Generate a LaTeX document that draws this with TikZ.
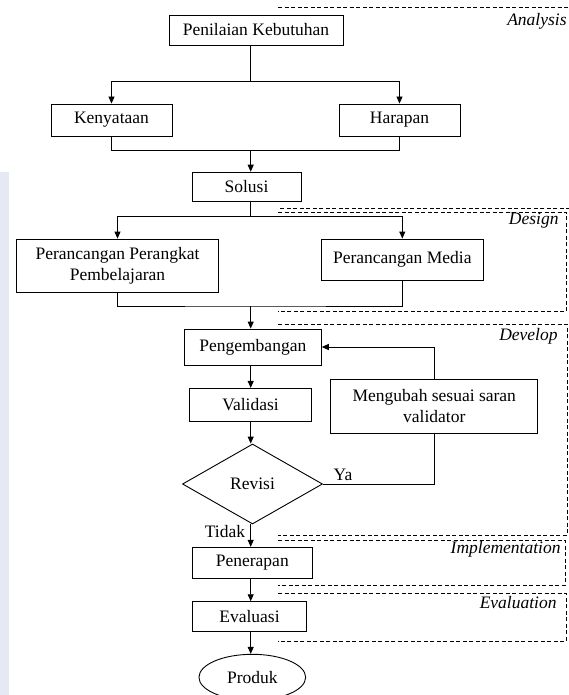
\documentclass[tikz,border=0pt]{standalone}
\usepackage{fontspec}
\setmainfont{Liberation Serif}
\usepackage{tikz}
\usetikzlibrary{arrows.meta,shapes,positioning}
\definecolor{Filigrane}{RGB}{228,233,243}

\begin{document}
\begin{tikzpicture}[x=1pt,y=-1pt,line width=0.9pt,
  >={Triangle[length=7pt,width=6pt]},
  font=\fontsize{17.5}{21.5}\selectfont,
  kotak/.style={draw,rectangle,inner sep=0pt,align=center},
  fase/.style={dash pattern=on 4pt off 2.5pt,line width=0.8pt},
  labelfase/.style={anchor=east,inner sep=0pt,font=\fontsize{17.5}{21.5}\selectfont\itshape}]
\useasboundingbox (0,0) rectangle (569,695);
\fill[Filigrane] (0,172) rectangle (9,695);
%
% dashed phases
\draw[fase] (278,7.3) -- (570,7.3) (570,208.3) -- (278,208.3);
\draw[fase] (278,212.3) -- (566.5,212.3) -- (566.5,311.7) -- (278,311.7);
\draw[fase] (278,324) -- (567,324) -- (567,535) -- (278,535);
\draw[fase] (278,540) -- (565,540) -- (565,585) -- (278,585);
\draw[fase] (278,593.3) -- (566,593.3) -- (566,641.7) -- (278,641.7);
\node[labelfase] (lAnalysis) at (567,21.7) {Analysis};
\node[labelfase] (lDesign) at (559,220.7) {Design};
\node[labelfase] (lDevelop) at (558,336) {Develop};
\node[labelfase] (lImplementation) at (561,549.3) {Implementation};
\node[labelfase] (lEvaluation) at (557,602.7) {Evaluation};
%
% boxes
\node[kotak,minimum width=174pt,minimum height=30pt] (pk) at (256,30) {Penilaian Kebutuhan};
\node[kotak,minimum width=121pt,minimum height=32pt] (ken) at (111.5,120) {Kenyataan};
\node[kotak,minimum width=121pt,minimum height=32pt] (har) at (399.5,120) {Harapan};
\node[kotak,minimum width=109pt,minimum height=29pt] (sol) at (246.5,186.7) {Solusi};
\node[kotak,minimum width=201.6pt,minimum height=53.3pt] (pp) at (117.5,265.7) {Perancangan Perangkat\\Pembelajaran};
\node[kotak,minimum width=162pt,minimum height=41pt] (pm) at (402.3,259.5) {Perancangan Media};
\node[kotak,minimum width=137pt,minimum height=36pt] (pg) at (252.8,347) {Pengembangan};
\node[kotak,minimum width=122.4pt,minimum height=32.7pt] (val) at (250.5,404.7) {Validasi};
\node[kotak,minimum width=207pt,minimum height=54.3pt] (mu) at (434.3,406.2) {Mengubah sesuai saran\\validator};
\node[draw,diamond,inner sep=0pt,minimum width=140pt,minimum height=80pt] (rev) at (252.5,484) {Revisi};
\node[kotak,minimum width=120pt,minimum height=31pt] (pen) at (252.3,562.8) {Penerapan};
\node[kotak,minimum width=114.4pt,minimum height=30pt] (eva) at (249.5,616.7) {Evaluasi};
\node[draw,ellipse,inner sep=0pt,minimum width=106.7pt,minimum height=46pt] (pro) at (252.3,677.3) {Produk};
\node (ya) at (343,475) {Ya};
\node (tidak) at (225,531.7) {Tidak};
%
% connectors
\coordinate (ax) at (250.7,0);
\coordinate (cabang1) at (250.7,81);
\coordinate (gabung1) at (250.7,150.7);
\coordinate (cabang2) at (250.7,216);
\coordinate (gabung2) at (250.7,306);
\draw (pk.south -| ax) -- (cabang1);
\draw[->] (cabang1) -| (ken.north);
\draw[->] (cabang1) -| (har.north);
\draw (ken.south) |- (gabung1) -| (har.south);
\draw[->] (gabung1) -- (sol.north -| ax);
\draw (sol.south -| ax) -- (cabang2);
\draw[->] (cabang2) -| (pp.north);
\draw[->] (cabang2) -| (pm.north);
\draw (pp.south) |- (gabung2) -| (pm.south);
\draw[->] (gabung2) -- (pg.north -| ax);
\draw[->] (pg.south -| ax) -- (val.north -| ax);
\draw[->] (val.south -| ax) -- (rev.north -| ax);
\draw (rev.east) -| (mu.south);
\draw[->] (mu.north) |- (pg.east);
\draw[->] (rev.south -| ax) -- (pen.north -| ax);
\draw[->] (pen.south -| ax) -- (eva.north -| ax);
\draw[->] (eva.south -| ax) -- (pro.north -| ax);
%
\end{tikzpicture}
\end{document}
